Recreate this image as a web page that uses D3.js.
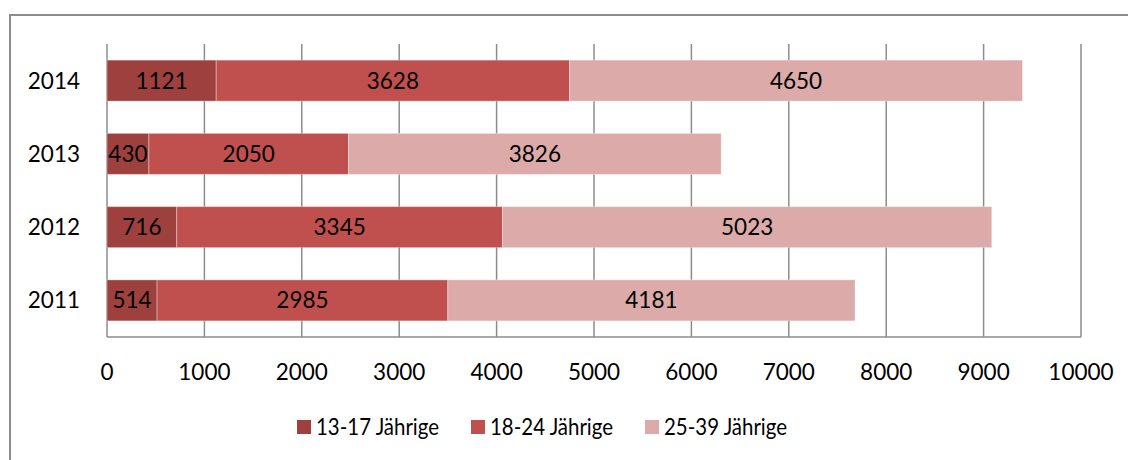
<!DOCTYPE html>
<html>
<head>
<meta charset="utf-8">
<script src="https://cdn.jsdelivr.net/npm/d3@7"></script>
<style>
  body { margin: 0; background: #fff; }
  svg text { font-family: Lato, "Open Sans", sans-serif; fill: #000; }
</style>
</head>
<body>
<svg id="chart" width="1128" height="460"></svg>
<script>
// values
var years = ["2014", "2013", "2012", "2011"];
var seriesNames = ["13-17 Jährige", "18-24 Jährige", "25-39 Jährige"];
var seriesColors = ["#9e413e", "#c0504d", "#dbaaa9"];
var teen = [1121, 430, 716, 514];
var young = [3628, 2050, 3345, 2985];
var adult = [4650, 3826, 5023, 4181];
var xTicks = [0, 1000, 2000, 3000, 4000, 5000, 6000, 7000, 8000, 9000, 10000];

var svg = d3.select("#chart");

// outer frame
svg.append("rect")
    .attr("x", 10).attr("y", 15)
    .attr("width", 1140).attr("height", 470)
    .attr("fill", "none")
    .attr("stroke", "#8c8c8c")
    .attr("stroke-width", 2);

var x = d3.scaleLinear().domain([0, 10000]).range([107, 1081]);
var y = d3.scaleBand().domain(years).range([44, 337]).paddingInner(0.44).paddingOuter(0.22);

// build stacked rows
var rows = years.map(function(yr, i) {
    return { year: yr, v: [teen[i], young[i], adult[i]] };
});
var stack = d3.stack().keys([0, 1, 2]).value(function(d, k) { return d.v[k]; });
var layers = stack(rows);

// grid lines
svg.append("g").selectAll("line")
    .data(xTicks)
    .join("line")
        .attr("x1", function(d) { return x(d); })
        .attr("x2", function(d) { return x(d); })
        .attr("y1", 44)
        .attr("y2", 337)
        .attr("stroke", "#8c8c8c")
        .attr("stroke-width", 1.5);

svg.append("line")
    .attr("x1", x(0)).attr("x2", x(10000))
    .attr("y1", 337).attr("y2", 337)
    .attr("stroke", "#8c8c8c")
    .attr("stroke-width", 1.5);

// bars
var barGrp = svg.append("g").attr("class", "bars");
layers.forEach(function(layer, k) {
    barGrp.append("g")
        .attr("fill", seriesColors[k])
        .selectAll("rect")
        .data(layer)
        .join("rect")
            .attr("x", function(d) { return x(d[0]); })
            .attr("width", function(d) { return x(d[1]) - x(d[0]); })
            .attr("y", function(d) { return y(d.data.year); })
            .attr("height", y.bandwidth())
            .attr("stroke", "#ffffff")
            .attr("stroke-opacity", 0.35)
            .attr("stroke-width", 1);
});

// value labels
layers.forEach(function(layer, k) {
    barGrp.append("g")
        .selectAll("text")
        .data(layer)
        .join("text")
            .attr("x", function(d) { return (x(d[0]) + x(d[1])) / 2; })
            .attr("y", function(d) { return y(d.data.year) + y.bandwidth() / 2 + 8; })
            .attr("text-anchor", "middle")
            .attr("font-size", "22.5px")
            .text(function(d) { return d[1] - d[0]; });
});

// category labels
svg.append("g").selectAll("text")
    .data(years)
    .join("text")
        .attr("x", 80)
        .attr("y", function(d) { return y(d) + y.bandwidth() / 2 + 8; })
        .attr("text-anchor", "end")
        .attr("font-size", "22.5px")
        .text(function(d) { return d; });

// x tick labels
svg.append("g").selectAll("text")
    .data(xTicks)
    .join("text")
        .attr("x", function(d) { return x(d); })
        .attr("y", 380)
        .attr("text-anchor", "middle")
        .attr("font-size", "22.5px")
        .text(function(d) { return d; });

// legend
var legendX = [297, 471, 645];
var legend = svg.append("g").selectAll("g")
    .data(seriesNames)
    .join("g")
        .attr("transform", function(d, i) { return "translate(" + legendX[i] + ",420)"; });
legend.append("rect")
    .attr("width", 14).attr("height", 14)
    .attr("fill", function(d, i) { return seriesColors[i]; });
legend.append("text")
    .attr("x", 19).attr("y", 15)
    .attr("font-size", "22.5px")
    .attr("textLength", 123)
    .attr("lengthAdjust", "spacingAndGlyphs")
    .text(function(d) { return d; });
</script>
</body>
</html>
